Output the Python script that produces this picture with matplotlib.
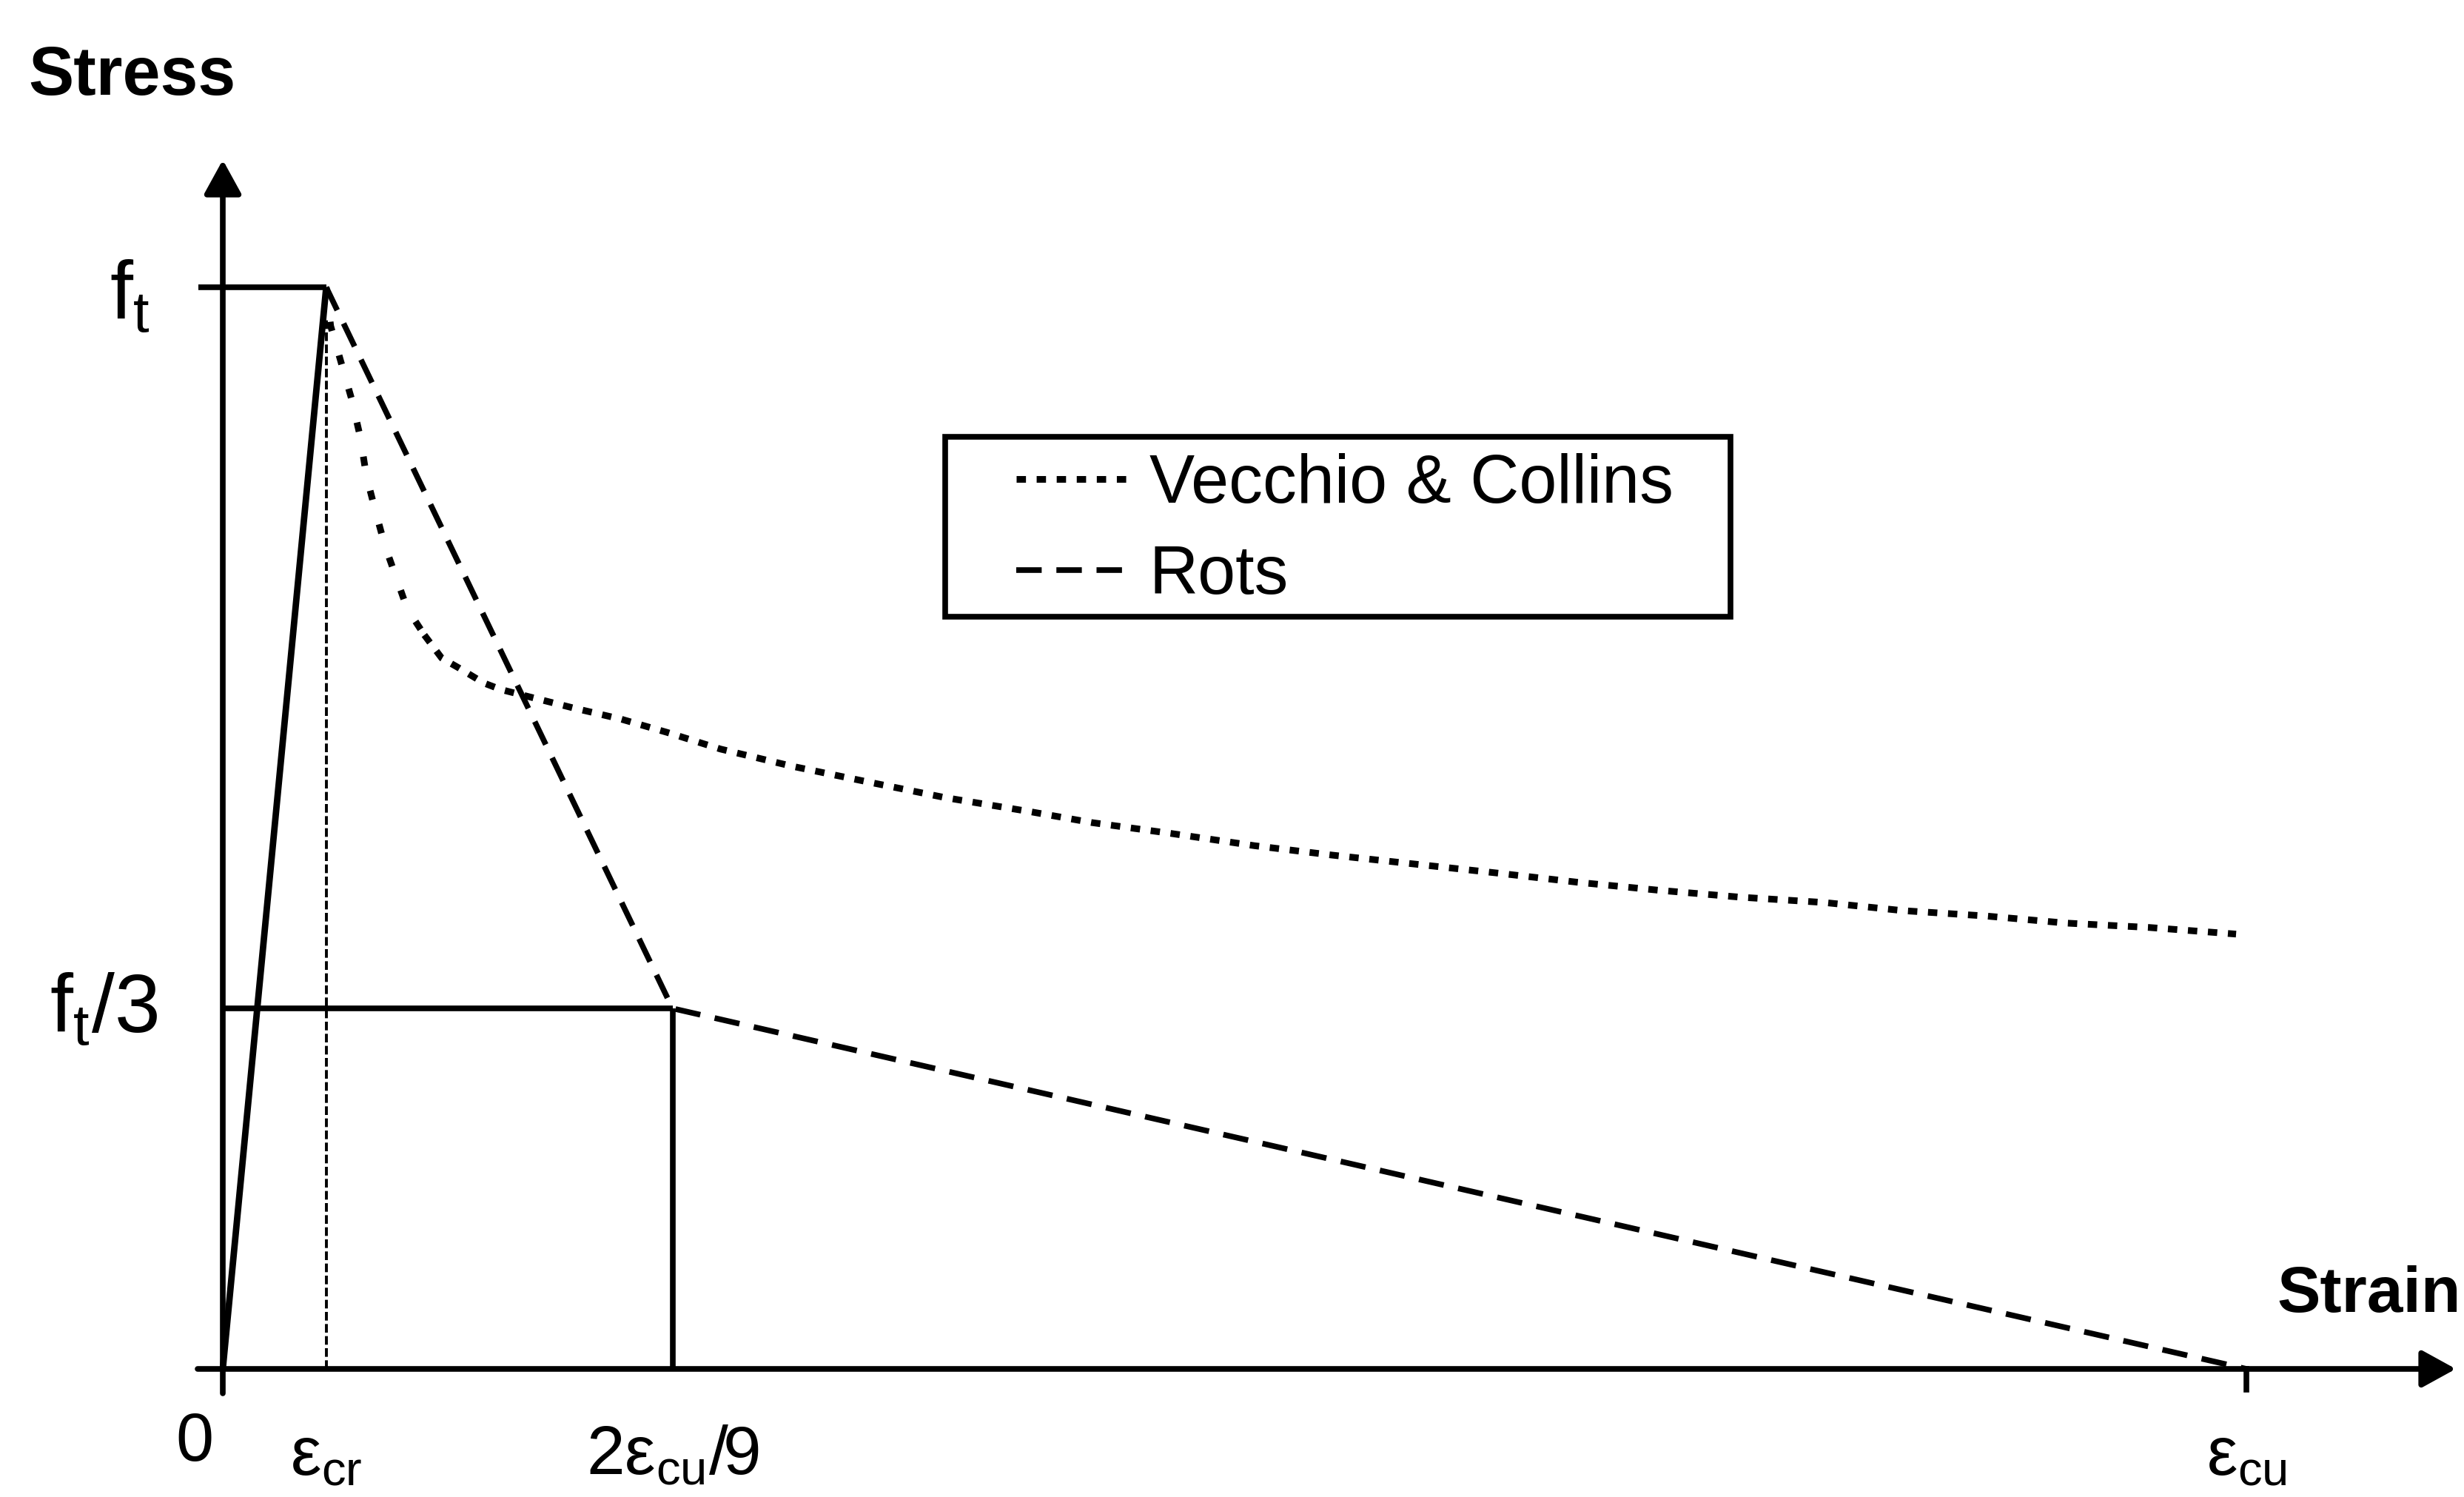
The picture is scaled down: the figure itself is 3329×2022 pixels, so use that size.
import matplotlib
matplotlib.use("Agg")
import matplotlib.pyplot as plt

plt.rcParams['font.family'] = 'Liberation Sans'
plt.rcParams['mathtext.fontset'] = 'custom'
plt.rcParams['mathtext.rm'] = 'Liberation Sans'
plt.rcParams['mathtext.it'] = 'Liberation Sans'
plt.rcParams['mathtext.default'] = 'regular'

# strain as a fraction of eps_cu, stress as a fraction of f_t
eps_cr = 0.0511
eps_mid = 2 / 9

elastic_x = [0.0, eps_cr]
elastic_y = [0.0, 1.0]

rots_x = [eps_cr, eps_mid, 1.0]
rots_y = [1.0, 1 / 3, 0.0]

vc_x = [0.0511, 0.0533, 0.0582, 0.0636, 0.0679, 0.0710, 0.0752, 0.0801,
        0.0862, 0.0911, 0.0996, 0.1082, 0.1167, 0.1289, 0.1374, 0.1533,
        0.1727, 0.1971, 0.2197, 0.2459, 0.2813, 0.3185, 0.3569, 0.3983,
        0.4294, 0.4684, 0.5099, 0.5483, 0.5897, 0.6300, 0.6696, 0.7092,
        0.7494, 0.7914, 0.8302, 0.8715, 0.9107, 0.9521, 0.9949]
vc_y = [1.0000, 0.9642, 0.9322, 0.8970, 0.8619, 0.8252, 0.7947, 0.7611,
        0.7290, 0.7029, 0.6785, 0.6571, 0.6480, 0.6342, 0.6281, 0.6205,
        0.6113, 0.6006, 0.5884, 0.5731, 0.5572, 0.5428, 0.5282, 0.5154,
        0.5051, 0.4951, 0.4837, 0.4750, 0.4666, 0.4584, 0.4499, 0.4426,
        0.4362, 0.4312, 0.4237, 0.4187, 0.4122, 0.4081, 0.4020]

labels = ['Vecchio & Collins', 'Rots']

# canvas layout in pixels (origin, eps_cu and f_t positions)
W, H = 3330, 2022
X0, X1 = 301, 3035
Y0, Y1 = 1849, 388


def px(x):
    return (x - X0) / (X1 - X0)


def py(y):
    return (Y0 - y) / (Y0 - Y1)


fig = plt.figure(figsize=(W / 100, H / 100), dpi=100)
ax = fig.add_axes([0, 0, 1, 1])
ax.set_xlim(px(0), px(W))
ax.set_ylim(py(H), py(0))
ax.axis('off')

LW = 5.5

# axes with arrow heads
arrow = dict(arrowstyle='-|>,head_length=0.4,head_width=0.22', lw=LW,
             color='black', mutation_scale=70, shrinkA=0, shrinkB=0)
ax.annotate('', xy=(0, py(216)), xytext=(0, py(1882)), arrowprops=arrow)
ax.annotate('', xy=(px(3318), 0), xytext=(px(267), 0), arrowprops=arrow)
ax.plot([1, 1], [0, py(1877)], color='black', lw=LW)

# reference lines
ax.plot([px(268), eps_cr], [1, 1], color='black', lw=LW, solid_capstyle='butt')
ax.plot([0, eps_mid], [1 / 3, 1 / 3], color='black', lw=LW, solid_capstyle='butt')
ax.plot([eps_mid, eps_mid], [0, 1 / 3], color='black', lw=LW, solid_capstyle='butt')
ax.plot([eps_cr, eps_cr], [0, 0.97], color='black', lw=2.8, linestyle=(0, (3, 1.2)))

# curves
ax.plot(elastic_x, elastic_y, color='black', lw=LW + 0.8, solid_capstyle='butt')
ax.plot(vc_x[:11], vc_y[:11], color='black', lw=6.5, linestyle=(0, (1.4, 3.8)))
vc_line, = ax.plot(vc_x[10:], vc_y[10:], color='black', lw=6.5,
                   linestyle=(0, (1.4, 1.6)))
rots_line, = ax.plot(rots_x, rots_y, color='black', lw=LW,
                     linestyle=(0, (4.5, 2.6)))

# legend
ax.legend([vc_line, rots_line], labels, loc='upper left',
          bbox_to_anchor=(px(1373), py(612)), bbox_transform=ax.transData,
          frameon=False, fontsize=66, handlelength=1.76, handletextpad=0.2,
          labelspacing=0.4, borderpad=0, borderaxespad=0)
ax.add_patch(plt.Rectangle((px(1277), py(833)), px(2338) - px(1277),
                           py(590) - py(833), fill=False, lw=5.5, color='black'))

# axis titles
ax.text(px(38), py(128), 'Stress', fontsize=66, fontweight='bold',
        ha='left', va='baseline')
ax.text(px(3325), py(1772), 'Strain', fontsize=63, fontweight='bold',
        ha='right', va='baseline')

# stress labels
ax.text(px(203), py(432), r'$f_t$', fontsize=80, ha='right', va='baseline')
ax.text(px(213), py(1395), r'$f_t/3$', fontsize=80, ha='right', va='baseline')

# strain labels
ax.text(px(263), py(1973), '0', fontsize=66, ha='center', va='baseline')
ax.text(eps_cr, py(1992), r'$\varepsilon_{cr}$', fontsize=67, ha='center', va='baseline')
ax.text(eps_mid, py(1992), r'$2\varepsilon_{cu}/9$', fontsize=67, ha='center', va='baseline')
ax.text(1.0, py(1992), r'$\varepsilon_{cu}$', fontsize=67, ha='center', va='baseline')

plt.savefig('out.png', dpi=100)
